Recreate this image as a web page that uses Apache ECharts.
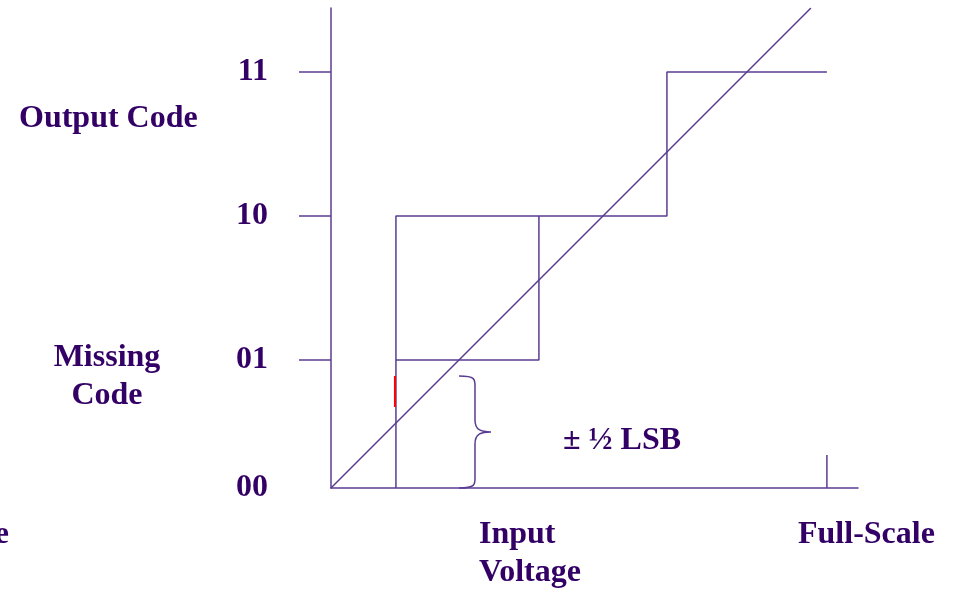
<!DOCTYPE html>
<html><head><meta charset="utf-8">
<script src="https://cdn.jsdelivr.net/npm/echarts@6/dist/echarts.min.js"></script>
<style>html,body{margin:0;padding:0;background:#fff}#c{width:955px;height:590px}</style>
</head><body><div id="c"></div>
<script>
// Units: LSB
const codeLevels = [0, 0.889, 1.889, 2.889];
const codeLabels = ['00', '01', '10', '11'];
const stairX = [0.451, 1.444, 2.333, 3.444];
const stairY = [0, 0.889, 1.889, 2.889];
const idealLine = [[0, 0], [3.333, 3.333]];
const missingMark = [[0.444, 0.778], [0.444, 0.5625]];
const fullScaleTick = [[3.444, 0], [3.444, 0.229]];
const brace = { x: 0.889, spine: 1.0, tip: 1.111, top: 0.778, bottom: 0 };
const xMax = 3.66, yMax = 3.333;

const LINE = '#5a3c92';
const TXT = '#330066';
const FONT = '"Liberation Serif", "Times New Roman", serif';
const F = `bold 32px ${FONT}`;

const stair = [
  [stairX[0], stairY[0]], [stairX[0], stairY[2]], [stairX[2], stairY[2]],
  [stairX[2], stairY[3]], [stairX[3], stairY[3]]
];
const lowStep = [[stairX[0], stairY[1]], [stairX[1], stairY[1]], [stairX[1], stairY[2]]];

const chart = echarts.init(document.getElementById('c'));
const lineS = (data, color, w) => ({
  type: 'line', data, symbol: 'none', silent: true, animation: false,
  lineStyle: { color: color || LINE, width: w || 1.5 }
});
chart.setOption({
  animation: false,
  grid: { left: 331, right: 97, top: 8, bottom: 102 },
  xAxis: {
    type: 'value', min: 0, max: xMax,
    axisLine: { show: true, lineStyle: { color: LINE, width: 1.5 } },
    axisTick: { show: false }, axisLabel: { show: false }, splitLine: { show: false }
  },
  yAxis: {
    type: 'value', min: 0, max: yMax,
    axisLine: { show: true, lineStyle: { color: LINE, width: 1.5 } },
    axisTick: { show: true, length: 32, customValues: codeLevels.slice(1), lineStyle: { color: LINE, width: 1.5 } },
    axisLabel: {
      customValues: codeLevels, margin: 63,
      formatter: v => codeLabels[codeLevels.indexOf(v)] || '',
      color: TXT, fontFamily: FONT, fontWeight: 'bold', fontSize: 32
    },
    splitLine: { show: false }
  },
  series: [
    lineS(stair), lineS(lowStep), lineS(idealLine), lineS(fullScaleTick),
    lineS(missingMark, '#ff0000', 2),
    {
      type: 'custom', silent: true, data: [0],
      renderItem: (params, api) => {
        const p = (x, y) => api.coord([x, y]);
        const a = p(brace.x, brace.top), s1 = p(brace.spine, brace.top),
              m = p(brace.tip, (brace.top + brace.bottom) / 2),
              b = p(brace.x, brace.bottom), s2 = p(brace.spine, brace.bottom);
        const mid = m[1];
        const path = `M${a[0]},${a[1]} C${s1[0]+2},${a[1]} ${s1[0]},${a[1]+4} ${s1[0]},${a[1]+14} ` +
          `L${s1[0]},${mid-12} C${s1[0]},${mid-2} ${s1[0]+6},${mid} ${m[0]},${mid} ` +
          `C${s1[0]+6},${mid} ${s1[0]},${mid+2} ${s1[0]},${mid+12} ` +
          `L${s2[0]},${b[1]-14} C${s2[0]},${b[1]-4} ${s2[0]+2},${b[1]} ${b[0]},${b[1]}`;
        return { type: 'path', shape: { pathData: path }, style: { fill: null, stroke: LINE, lineWidth: 1.5 } };
      }
    }
  ],
  graphic: [
    { type: 'text', x: 19, y: 119, style: { text: 'Output Code', verticalAlign: 'middle', fill: TXT, font: F } },
    { type: 'text', x: 107, y: 377, style: { text: 'Missing\nCode', align: 'center', verticalAlign: 'middle', lineHeight: 38, fill: TXT, font: F } },
    { type: 'text', x: 479, y: 554, style: { text: 'Input\nVoltage', verticalAlign: 'middle', lineHeight: 38, fill: TXT, font: F } },
    { type: 'text', x: 798, y: 535, style: { text: 'Full-Scale', verticalAlign: 'middle', fill: TXT, font: F } },
    { type: 'text', x: 9, y: 535, style: { text: 'Zero-Scale', align: 'right', verticalAlign: 'middle', fill: TXT, font: F } },
    { type: 'text', x: 563, y: 441, style: { text: '± ½ LSB', verticalAlign: 'middle', fill: TXT, font: F } }
  ]
});
</script></body></html>
